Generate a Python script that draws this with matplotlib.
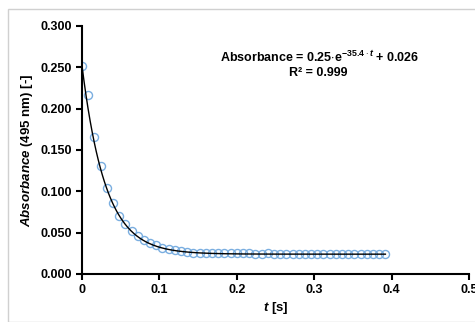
import numpy as np
import matplotlib
matplotlib.use("Agg")
import matplotlib.pyplot as plt
from matplotlib.patches import Rectangle

plt.rcParams['font.family'] = ['Liberation Sans', 'DejaVu Sans']
plt.rcParams['font.weight'] = 'bold'
plt.rcParams['mathtext.fontset'] = 'custom'
plt.rcParams['mathtext.rm'] = 'Liberation Sans:bold'
plt.rcParams['mathtext.it'] = 'Liberation Sans:bold:italic'
plt.rcParams['mathtext.bf'] = 'Liberation Sans:bold'

# measured absorbance, dt = 0.008 s
t = [i * 0.008 for i in range(50)]
absorbance = [0.252, 0.217, 0.166, 0.131, 0.104, 0.086, 0.070, 0.060, 0.052, 0.046,
              0.041, 0.037, 0.035, 0.032, 0.030, 0.029, 0.028, 0.027, 0.026, 0.026,
              0.026, 0.025, 0.025, 0.025, 0.025, 0.025, 0.025, 0.025, 0.024, 0.024,
              0.025, 0.024, 0.024, 0.024, 0.024, 0.024, 0.024, 0.024, 0.024, 0.024,
              0.024, 0.024, 0.024, 0.024, 0.024, 0.024, 0.024, 0.024, 0.024, 0.024]

# fitted curve as drawn (start, rate, plateau)
fit_start, fit_k, fit_plateau = 0.252, 33.0, 0.024

fig = plt.figure(figsize=(4.75, 3.22), dpi=100)
fig.patches.append(Rectangle((8/475, 0), 1, 1 - 9/322, transform=fig.transFigure,
                             fill=False, edgecolor='#d0d0d0', linewidth=1))
ax = fig.add_axes([82/475, 1 - 274/322, 387/475, 248/322])

tf = np.linspace(0, max(t), 300)
ax.plot(t, absorbance, 'o', mfc='none', mec='#7aaee0', ms=5.8, mew=1.0, zorder=2)
ax.plot(tf, (fit_start - fit_plateau) * np.exp(-fit_k * tf) + fit_plateau,
        color='black', lw=1.0, zorder=3)

ax.set_xlim(0, 0.5)
ax.set_ylim(0, 0.3)
ax.set_xticks([0, 0.1, 0.2, 0.3, 0.4, 0.5])
ax.set_xticklabels(['0', '0.1', '0.2', '0.3', '0.4', '0.5'])
ax.set_yticks([0, 0.05, 0.1, 0.15, 0.2, 0.25, 0.3])
ax.set_yticklabels(['%.3f' % v for v in [0, 0.05, 0.1, 0.15, 0.2, 0.25, 0.3]])
ax.tick_params(labelsize=9, width=1.5, length=4, direction='out', pad=3)
for s in ['top', 'right']:
    ax.spines[s].set_visible(False)
for s in ['left', 'bottom']:
    ax.spines[s].set_linewidth(1.5)

ax.set_xlabel(r'$\it{t}$ [s]', fontsize=9.5, fontweight='bold', labelpad=3)
ax.set_ylabel(r'$\it{Absorbance}$ (495 nm) [-]', fontsize=9.5, fontweight='bold', labelpad=4)

fig.text(320/475, 1 - 57/322, r'Absorbance = 0.25$\cdot$e$^{-35.4\cdot t}$ + 0.026',
         ha='center', va='center', fontsize=9)
fig.text(318/475, 1 - 73/322, 'R² = 0.999', ha='center', va='center', fontsize=9)

fig.savefig('out.png', dpi=100)
